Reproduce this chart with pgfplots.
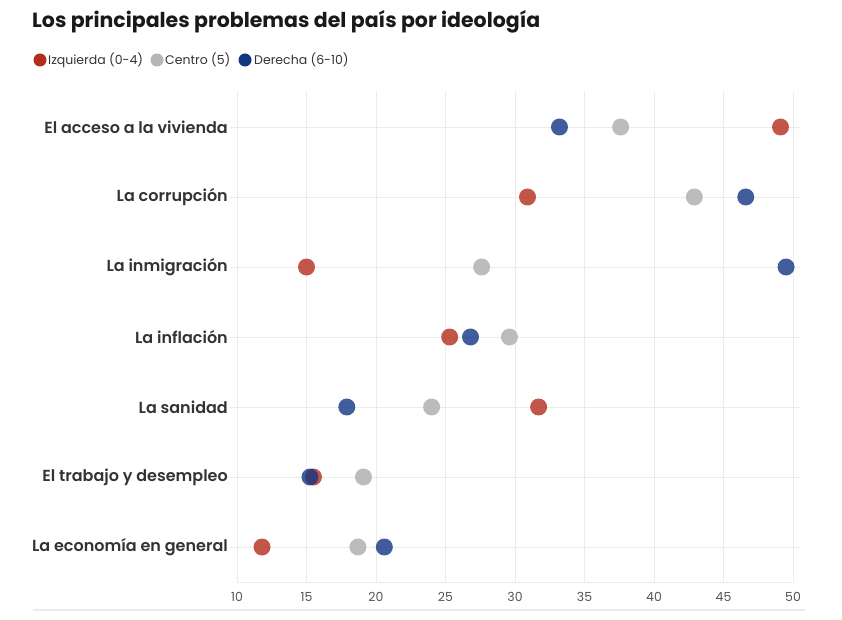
\documentclass[border=0pt]{standalone}
\usepackage{fontspec}
\setmainfont{Poppins}
\newfontfamily\psemi{Poppins SemiBold}
\usepackage{pgfplots}
\pgfplotsset{compat=1.18}

\definecolor{izq}{HTML}{B32D1C}
\definecolor{cen}{HTML}{B5B5B5}
\definecolor{der}{HTML}{123582}
\definecolor{gridc}{HTML}{EBEBEB}
\definecolor{txt}{HTML}{333333}
\definecolor{ticktxt}{HTML}{555555}

\begin{document}
\begin{tikzpicture}[x=1pt,y=1pt]
\path (0,0) rectangle (842,620);
% title
\node[anchor=west, inner sep=0pt, text=black!90, font=\fontsize{20.5}{23}\selectfont\bfseries]
  at (32,598) {Los principales problemas del país por ideología};
% legend
\fill[izq] (40,560) circle (6.5pt);
\node[anchor=west, inner sep=0pt, text=txt, font=\fontsize{12.5}{14}\selectfont] at (48,560) {Izquierda (0-4)};
\fill[cen] (157,560) circle (6.5pt);
\node[anchor=west, inner sep=0pt, text=txt, font=\fontsize{12.5}{14}\selectfont] at (165,560) {Centro (5)};
\fill[der] (245,560) circle (6.5pt);
\node[anchor=west, inner sep=0pt, text=txt, font=\fontsize{12.5}{14}\selectfont] at (254,560) {Derecha (6-10)};
% bottom rule
\draw[gridc, line width=1.5pt] (33,10) -- (805,10);

\begin{axis}[
  at={(237pt,38pt)}, anchor=south west,
  scale only axis, width=556pt, height=490pt,
  xmin=10, xmax=50, ymin=-0.5, ymax=6.5, y dir=reverse,
  clip=false,
  axis line style={draw=none},
  xtick={10,15,...,50},
  ytick={0,...,6},
  yticklabels={El acceso a la vivienda, La corrupción, La inmigración, La inflación, La sanidad, El trabajo y desempleo, La economía en general},
  extra y ticks={6.5},
  extra y tick labels={},
  extra y tick style={major tick length=0pt},
  grid=major,
  grid style={gridc, line width=0.9pt},
  tick align=outside,
  major tick length=7pt,
  xtick style={draw=none},
  ytick style={gridc, line width=0.9pt},
  /pgf/number format/assume math mode=true,
  xticklabel style={font=\fontsize{12.5}{14}\selectfont, text=ticktxt},
  yticklabel style={font=\fontsize{16}{18}\selectfont\psemi, text=txt, inner sep=2pt},
  every axis plot/.append style={only marks, mark=*, mark size=8.5pt},
]
\addplot[izq, mark options={fill=izq, draw=izq, fill opacity=0.8, draw opacity=0}] coordinates {
  (49.1,0) (30.9,1) (15.0,2) (25.3,3) (31.7,4) (15.5,5) (11.8,6)};
\addplot[cen, mark options={fill=cen, draw=cen, fill opacity=0.9, draw opacity=0}] coordinates {
  (37.6,0) (42.9,1) (27.6,2) (29.6,3) (24.0,4) (19.1,5) (18.7,6)};
\addplot[der, mark options={fill=der, draw=der, fill opacity=0.8, draw opacity=0}] coordinates {
  (33.2,0) (46.6,1) (49.5,2) (26.8,3) (17.9,4) (15.25,5) (20.6,6)};
\end{axis}
\end{tikzpicture}
\end{document}
